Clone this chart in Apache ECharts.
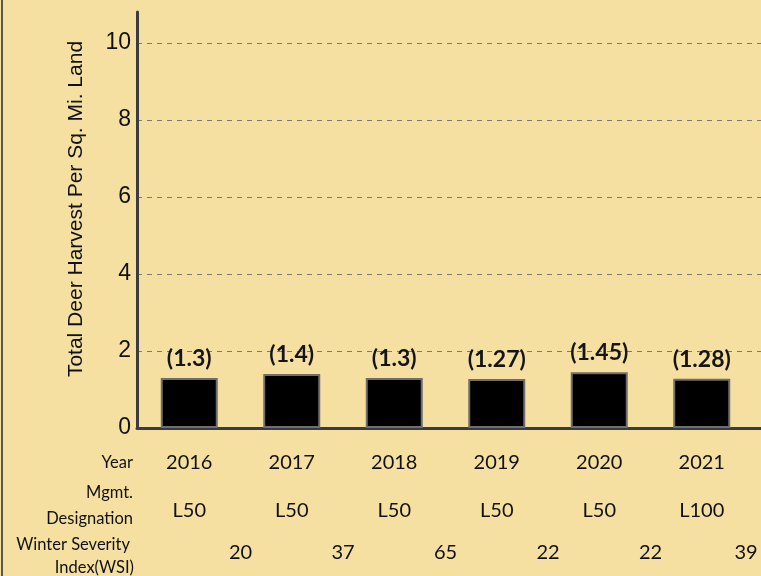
<!DOCTYPE html>
<html>
<head>
<meta charset="utf-8">
<script src="https://cdn.jsdelivr.net/npm/echarts@6/dist/echarts.min.js"></script>
<style>
  html, body { margin: 0; padding: 0; background: #F5E0A2; }
  #chart { width: 761px; height: 576px; }
  #frame { position: absolute; left: 1px; top: 0; width: 2px; height: 576px; background: #555; }
</style>
</head>
<body>
<div id="chart"></div>
<div id="frame"></div>
<script>
// Harvest per square mile, by year
const years = ['2016', '2017', '2018', '2019', '2020', '2021'];
const harvest = [1.3, 1.4, 1.3, 1.27, 1.45, 1.28];
const designations = ['L50', 'L50', 'L50', 'L50', 'L50', 'L100'];
// WSI values sit between the year columns
const wsi = ['', '20', '37', '65', '22', '22', '39'];
const rowTitleLines = ['Year', 'Mgmt.', 'Designation', 'Winter Severity', 'Index(WSI)'];
const yTicks = { min: 0, max: 10.8, interval: 2 };

const textFont = 'Lato';
const chart = echarts.init(document.getElementById('chart'));

const rowAxis = (data, offset, extra) => Object.assign({
  type: 'category',
  gridIndex: 1,
  position: 'bottom',
  data: data,
  offset: offset,
  axisLine: { show: false },
  axisTick: { show: false },
  splitLine: { show: false },
  axisLabel: { margin: 0, verticalAlign: 'middle', fontFamily: textFont, fontSize: 20, color: '#111' }
}, extra || {});

// the last WSI value is nudged left so it stays inside the frame
const wsiData = wsi.map((v, i) => i === wsi.length - 1
  ? { value: v, textStyle: { padding: [0, 14, 0, 0], verticalAlign: 'middle' } }
  : v);

// row titles to the left of the table rows
const titleAnchors = [[133, 463], [133, 493], [133, 519], [130, 545], [134, 568]];
const rowTitleGraphics = rowTitleLines.map((t, i) => ({
  type: 'text',
  x: titleAnchors[i][0],
  y: titleAnchors[i][1],
  style: { text: t, fontFamily: textFont, fontSize: 16.5, fill: '#111', align: 'right', verticalAlign: 'middle' }
}));

chart.setOption({
  backgroundColor: '#F5E0A2',
  animation: false,
  grid: [
    { left: 137, right: 0, top: 12, bottom: 148, outerBoundsMode: 'none' },
    { left: 138, right: 8, top: 12, bottom: 148, outerBoundsMode: 'none' }
  ],
  xAxis: [
    {
      type: 'category', gridIndex: 0, data: years, position: 'bottom',
      axisLine: { show: true, lineStyle: { color: '#3c3c3c', width: 3 } },
      axisTick: { show: false }, axisLabel: { show: false }, splitLine: { show: false }
    },
    rowAxis(years, 35),
    rowAxis(designations, 83),
    rowAxis(wsiData, 125, { boundaryGap: false })
  ],
  yAxis: [
    {
      type: 'value', gridIndex: 0, min: yTicks.min, max: yTicks.max, interval: yTicks.interval,
      axisLine: { show: true, lineStyle: { color: '#3c3c3c', width: 3 } },
      axisTick: { show: false },
      axisLabel: { showMaxLabel: false, margin: 6, fontFamily: 'Liberation Sans', fontSize: 23, color: '#111' },
      splitLine: { show: true, showMinLine: false, showMaxLine: false, lineStyle: { color: '#7a7a7a', type: [5, 5], width: 1 } },
      name: 'Total Deer Harvest Per Sq. Mi. Land',
      nameLocation: 'middle',
      nameGap: 50,
      nameMoveOverlap: false,
      nameTextStyle: { fontFamily: 'Liberation Sans', fontSize: 21, color: '#111', padding: [0, 0, 0, 22] }
    },
    { type: 'value', gridIndex: 1, min: yTicks.min, max: yTicks.max, interval: yTicks.interval, show: false }
  ],
  graphic: rowTitleGraphics,
  series: [{
    type: 'bar',
    xAxisIndex: 1,
    yAxisIndex: 1,
    data: harvest,
    barWidth: 57,
    itemStyle: { color: '#000', borderColor: '#6e6e6e', borderWidth: 2 },
    label: {
      show: true, position: 'top', distance: 8,
      formatter: p => '(' + p.value + ')',
      fontFamily: textFont, fontWeight: 'bold', fontSize: 23, color: '#151515'
    }
  }]
});
</script>
</body>
</html>
